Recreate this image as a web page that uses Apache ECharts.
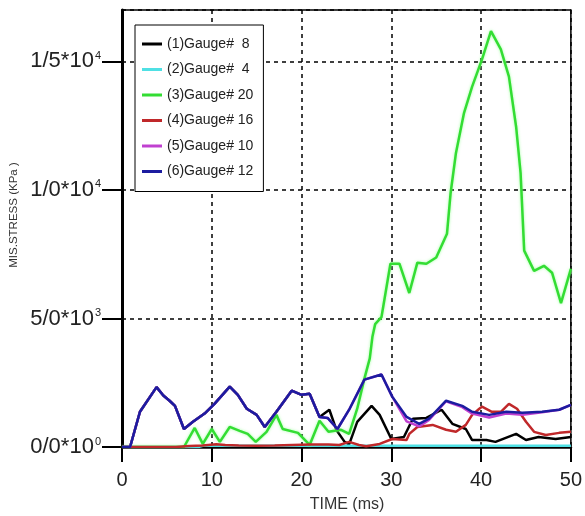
<!DOCTYPE html>
<html><head><meta charset="utf-8">
<script src="https://cdn.jsdelivr.net/npm/echarts@6/dist/echarts.min.js"></script>
<style>html,body{margin:0;padding:0;background:#fff}#c{width:585px;height:516px}</style>
</head><body><div id="c"></div>
<script>
// ---- data ----
const seriesNames = ['(1)Gauge#  8', '(2)Gauge#  4', '(3)Gauge# 20', '(4)Gauge# 16', '(5)Gauge# 10', '(6)Gauge# 12'];
const xTickValues = [0, 10, 20, 30, 40, 50];
const yTickValues = [0, 5000, 10000, 15000];
const yTickMantissa = ['0/0', '5/0', '1/0', '1/5'];
const yTickExp = ['0', '3', '4', '4'];

// (1) Gauge 8
const g8T = [0, 0.9, 2, 3.85, 4.6, 5.3, 5.9, 6.9, 7.9, 9.2, 10.3, 12, 12.9, 13.9, 15, 15.9, 17.2, 18.9, 20, 20.9, 22, 23.1, 23.9, 24.8, 25.3, 26.2, 27.8, 28.7, 30, 31.4, 32.4, 33.9, 35.6, 36.8, 38.3, 39, 40.6, 41.6, 43.9, 45, 46.4, 48.3, 50];
const g8V = [0, 0, 1370, 2330, 2000, 1800, 1600, 700, 980, 1300, 1680, 2350, 2030, 1490, 1250, 780, 1370, 2190, 2030, 2070, 1170, 1450, 650, 200, 100, 980, 1600, 1250, 310, 390, 1100, 1130, 1450, 900, 700, 270, 270, 200, 510, 270, 390, 310, 390];
// (2) Gauge 4
const g4T = [0, 8.5, 9, 50];
const g4V = [0, 0, 50, 50];
// (3) Gauge 20
const g20T = [0, 6.9, 8.1, 9, 10, 10.9, 12, 13.1, 14, 14.9, 16.1, 17.2, 17.9, 19.6, 20.9, 22, 23, 24.4, 25.3, 26.2, 27, 27.6, 27.9, 28.2, 28.9, 29.9, 30.9, 32, 32.9, 33.9, 35, 36.2, 36.6, 37.2, 38.1, 39, 40.1, 41.1, 42.2, 43.1, 43.9, 44.4, 44.8, 45.9, 47, 47.9, 48.9, 50];
const g20V = [0, 0, 740, 120, 700, 200, 780, 630, 510, 200, 590, 1250, 700, 550, 80, 1020, 590, 670, 510, 1490, 2660, 3450, 4300, 4780, 5050, 7130, 7130, 5990, 7170, 7130, 7370, 8300, 9870, 11440, 13000, 14020, 15080, 16180, 15470, 14410, 12460, 10650, 7640, 6850, 7050, 6780, 5600, 6930];
// (4) Gauge 16
const g16T = [0, 6, 7.5, 9, 10.5, 11.5, 13, 15, 17, 19, 21, 23, 24.2, 25.3, 26.4, 27.2, 28.7, 30.1, 31.7, 32, 32.9, 34.6, 36.1, 37.2, 38.3, 39, 39.8, 40.1, 41.2, 42.2, 43.1, 44, 45, 45.9, 47.2, 48.7, 50];
const g16V = [0, 0, 40, 60, 110, 80, 60, 50, 60, 80, 100, 100, 80, 200, 80, 30, 120, 310, 270, 510, 780, 860, 670, 590, 860, 1250, 1490, 1570, 1370, 1370, 1680, 1490, 980, 590, 470, 550, 590];
// (5) Gauge 10
const g10T = [0, 0.9, 2, 3.85, 4.6, 5.3, 5.9, 6.9, 7.9, 9.2, 10.3, 12, 12.9, 13.9, 15, 15.9, 17.2, 18.9, 20, 20.9, 22, 22.9, 24, 25.3, 27, 28.9, 30.1, 31.7, 33.1, 34.2, 36.1, 37.9, 39, 40.9, 42.8, 44.6, 46.8, 48.7, 50];
const g10V = [0, 0, 1370, 2330, 2000, 1800, 1600, 700, 980, 1300, 1680, 2350, 2030, 1490, 1250, 780, 1370, 2190, 2030, 2070, 1170, 1130, 700, 1450, 2620, 2820, 1960, 1000, 800, 1050, 1780, 1550, 1300, 1150, 1300, 1250, 1350, 1450, 1640];
// (6) Gauge 12
const g12T = [0, 0.9, 2, 3.85, 4.6, 5.3, 5.9, 6.9, 7.9, 9.2, 10.3, 12, 12.9, 13.9, 15, 15.9, 17.2, 18.9, 20, 20.9, 22, 22.9, 24, 25.3, 27, 28.9, 30.1, 31.7, 33.1, 34.2, 36.1, 37.9, 39, 40.9, 42.8, 44.6, 46.8, 48.7, 50];
const g12V = [0, 0, 1370, 2330, 2000, 1800, 1600, 700, 980, 1300, 1680, 2350, 2030, 1490, 1250, 780, 1370, 2190, 2030, 2070, 1170, 1130, 700, 1450, 2620, 2820, 1960, 1170, 900, 1100, 1800, 1600, 1370, 1250, 1370, 1330, 1370, 1450, 1640];

// ---- styles ----
const seriesColors = ['#000000', '#4fe0e4', '#33dd33', '#c0282a', '#c040d0', '#1c1ca0'];
const FONT = "'Liberation Sans', Arial, sans-serif";

const zip = (t, v) => t.map((x, i) => [x, v[i]]);
const allT = [g8T, g4T, g20T, g16T, g10T, g12T];
const allV = [g8V, g4V, g20V, g16V, g10V, g12V];

const chart = echarts.init(document.getElementById('c'), null, {renderer: 'canvas'});
chart.setOption({
  animation: false,
  backgroundColor: '#fff',
  grid: {left: 122, right: 13, top: 10, bottom: 69, show: true, borderColor: '#000', borderWidth: 1.5, backgroundColor: 'transparent'},
  legend: {
    orient: 'vertical', left: 135, top: 25,
    icon: 'rect', itemWidth: 20, itemHeight: 3, itemGap: 11.5,
    padding: [12, 10, 13, 7],
    borderColor: '#000', borderWidth: 1, backgroundColor: '#fff',
    textStyle: {fontSize: 14, color: '#222', fontFamily: FONT},
    data: seriesNames
  },
  xAxis: {
    type: 'value', min: 0, max: 50, interval: 10,
    axisLine: {show: true, onZero: false, lineStyle: {color: '#000', width: 2.5}},
    axisTick: {show: true, inside: false, length: 15, lineStyle: {color: '#000', width: 2}},
    axisLabel: {fontSize: 20, color: '#222', margin: 23, fontFamily: FONT,
      formatter: v => xTickValues.indexOf(v) >= 0 ? String(v) : ''},
    splitLine: {show: true, lineStyle: {color: '#000', width: 1.5, type: [4, 4]}}
  },
  yAxis: {
    type: 'value', min: 0, max: 17000, interval: 5000,
    axisLine: {show: true, onZero: false, lineStyle: {color: '#000', width: 3}},
    axisTick: {show: true, inside: false, length: 20, lineStyle: {color: '#000', width: 2}},
    axisLabel: {
      margin: 21, color: '#222', fontFamily: FONT, showMaxLabel: false,
      formatter: v => {
        const i = yTickValues.indexOf(v);
        return i < 0 ? '' : '{m|' + yTickMantissa[i] + '*10}{e|' + yTickExp[i] + '}';
      },
      rich: {
        m: {fontSize: 22, color: '#222', fontFamily: FONT},
        e: {fontSize: 11, color: '#222', fontFamily: FONT, verticalAlign: 'top', padding: [0, 0, 0, 1]}
      }
    },
    splitLine: {show: true, lineStyle: {color: '#000', width: 1.5, type: [4, 4]}}
  },
  graphic: [
    {type: 'text', x: 347, y: 505, style: {text: 'TIME (ms)', font: "16px " + FONT, fill: '#333', textAlign: 'center', textVerticalAlign: 'middle'}},
    {type: 'text', x: 14, y: 215, rotation: Math.PI / 2, style: {text: 'MIS.STRESS (KPa )', font: "11.5px " + FONT, fill: '#333', textAlign: 'center', textVerticalAlign: 'middle'}}
  ],
  series: seriesNames.map((name, i) => ({
    name: name, type: 'line', symbol: 'none', showSymbol: false,
    data: zip(allT[i], allV[i]),
    lineStyle: Object.assign({color: seriesColors[i], width: 2.5},
      i === 2 ? {shadowBlur: 3, shadowColor: 'rgba(140,255,140,0.8)'} : {}),
    itemStyle: {color: seriesColors[i]},
    emphasis: {disabled: true}
  }))
});
</script>
</body></html>
